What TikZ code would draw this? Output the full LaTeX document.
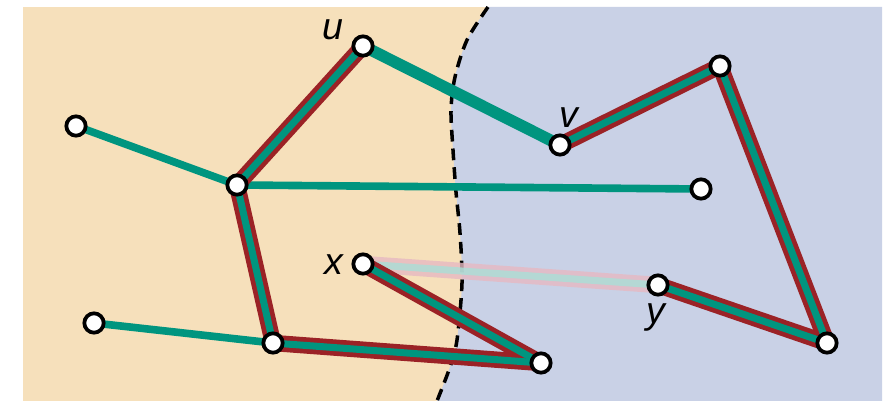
\documentclass[tikz,border=0pt]{standalone}
\usepackage{fontspec}
\setsansfont{Liberation Sans}
\usepackage{xcolor}

\definecolor{sand}{HTML}{F6E0BB}
\definecolor{slate}{HTML}{C9D1E6}
\definecolor{treeteal}{HTML}{00957F}
\definecolor{tourred}{HTML}{9B2226}
\definecolor{ghostred}{HTML}{E6B9C2}
\definecolor{ghostteal}{HTML}{A9DFD7}

\pgfdeclarelayer{back}
\pgfdeclarelayer{edges}
\pgfsetlayers{back,edges,main}

\begin{document}
\begin{tikzpicture}[
    x=0.03cm, y=-0.03cm,
    vtx/.style={
      circle, draw=black, line width=3.2pt, fill=white,
      minimum size=0.58cm, inner sep=0pt
    },
    lbl/.style={
      font=\sffamily\itshape\fontsize{32}{36}\selectfont,
      inner sep=0pt, anchor=base
    },
    cut/.style={black, line width=3pt, dash pattern=on 10pt off 6pt},
    tree/.style={treeteal, line width=6.5pt, line cap=round},
    bridge/.style={treeteal, line width=10pt, line cap=round},
    tourout/.style={tourred, line width=14pt, line cap=round},
    tourin/.style={treeteal, line width=6pt, line cap=round},
    ghostout/.style={ghostred, line width=14pt, opacity=0.8},
    ghostin/.style={ghostteal, line width=6pt, opacity=0.8}
  ]
    \useasboundingbox (0,0) rectangle (889,401);

    % Two sides of the cut
    \begin{pgfonlayer}{back}
      \fill[sand] (23,7) rectangle (882,401);
      \fill[slate] (882,7) -- (882,401) -- plot[smooth] coordinates {
        (437,401) (450,367) (457,340) (462,283) (460,233)
        (456,192) (453,150) (451,110) (455,77) (467,40) (488,7)} -- cycle;
      \draw[cut] plot[smooth] coordinates {
        (488,7) (467,40) (455,77) (451,110) (453,150) (456,192)
        (460,233) (462,283) (457,340) (450,367) (437,401)};
    \end{pgfonlayer}

    % Vertices
    \node[vtx] (a) at (76,126) {};
    \node[vtx] (b) at (237,185) {};
    \node[vtx] (u) at (363,46) {};
    \node[vtx] (v) at (560,145) {};
    \node[vtx] (c) at (720,66) {};
    \node[vtx] (d) at (701,189) {};
    \node[vtx] (e) at (827,343) {};
    \node[vtx] (y) at (658,285) {};
    \node[vtx] (x) at (363,264) {};
    \node[vtx] (f) at (541,363) {};
    \node[vtx] (g) at (273,343) {};
    \node[vtx] (h) at (94,323) {};

    % Labels
    \node[lbl] (ulbl) at (333,40) {u};
    \node[lbl] (vlbl) at (569,128) {v};
    \node[lbl] (xlbl) at (334,275) {x};
    \node[lbl] (ylbl) at (656,324) {y};

    % Edges
    \begin{pgfonlayer}{edges}
      \draw[tree] (a.center) -- (b.center);
      \draw[tree] (b.center) -- (d.center);
      \draw[tree] (h.center) -- (g.center);
      \draw[bridge] (u.center) -- (v.center);
      \draw[ghostout] (x.center) -- (y.center);
      \draw[ghostin] (x.center) -- (y.center);
      \foreach \s/\t in {b/u, v/c, c/e, e/y, x/f, f/g, g/b}
        \draw[tourout] (\s.center) -- (\t.center);
      \foreach \s/\t in {b/u, v/c, c/e, e/y, x/f, f/g, g/b}
        \draw[tourin] (\s.center) -- (\t.center);
    \end{pgfonlayer}
\end{tikzpicture}
\end{document}
